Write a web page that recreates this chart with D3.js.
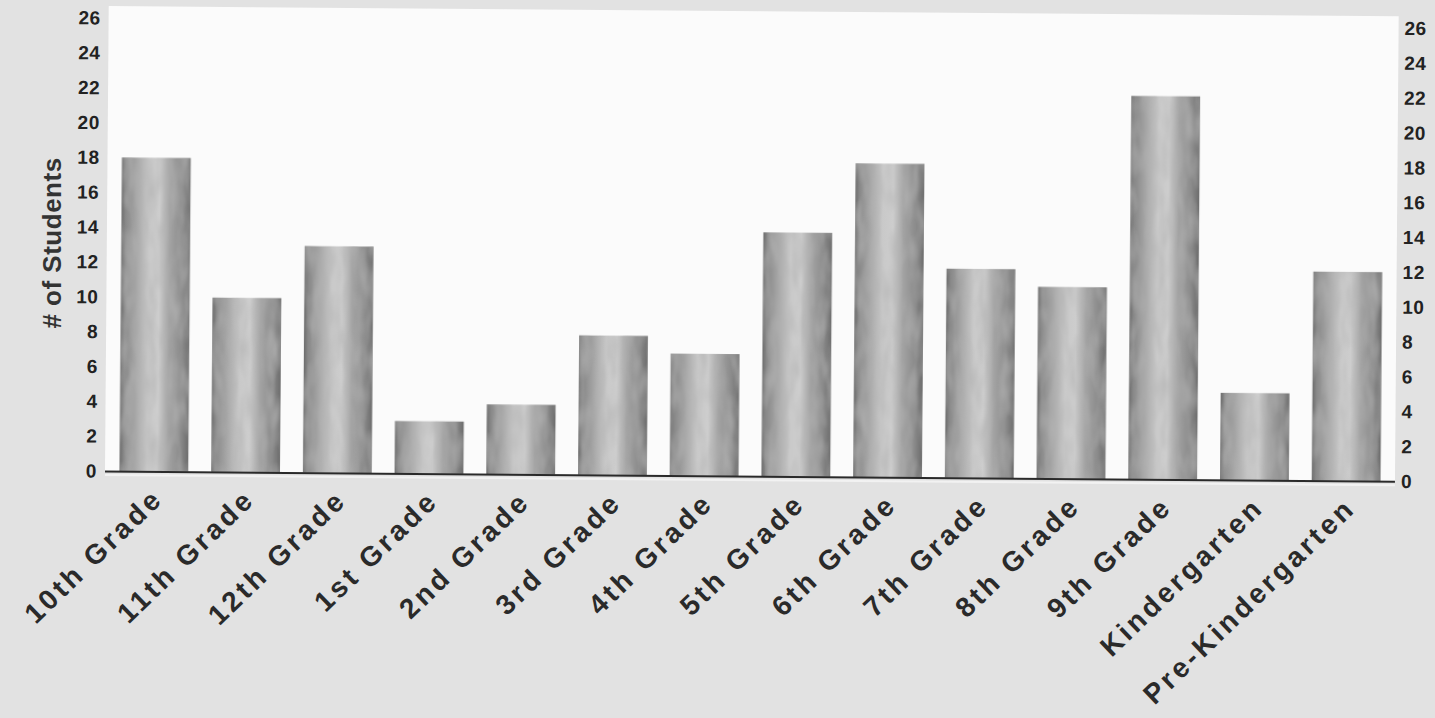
<!DOCTYPE html>
<html>
<head>
<meta charset="utf-8">
<script src="https://cdn.jsdelivr.net/npm/d3@7"></script>
<style>
html,body{margin:0;padding:0;background:#e2e2e2;}
svg{display:block;}
</style>
</head>
<body>
<svg id="chart" width="1435" height="718"></svg>
<script>
const categories = ["10th Grade","11th Grade","12th Grade","1st Grade","2nd Grade","3rd Grade","4th Grade","5th Grade","6th Grade","7th Grade","8th Grade","9th Grade","Kindergarten","Pre-Kindergarten"];
const students = [18,10,13,3,4,8,7,14,18,12,11,22,5,12];
const yTicks = [0,2,4,6,8,10,12,14,16,18,20,22,24,26];
const yTitle = "# of Students";

(function(){
const svg = d3.select("#chart");
const W = 1435, H = 718;
const pLeft = 105, pRight = 1395, pTop = 18, base = 471;

svg.append("rect").attr("width",W).attr("height",H).attr("fill","#e2e2e2");

const defs = svg.append("defs");
const grad = defs.append("linearGradient").attr("id","barGrad").attr("x1","0%").attr("x2","100%").attr("y1","0%").attr("y2","0%");
[[0,"#6c6c6c"],[6,"#888888"],[20,"#a2a2a2"],[40,"#c9c9c9"],[55,"#cdcdcd"],[70,"#a3a3a3"],[88,"#8b8b8b"],[100,"#6c6c6c"]]
  .forEach(([o,c])=>grad.append("stop").attr("offset",o+"%").attr("stop-color",c));

const filt = defs.append("filter").attr("id","noise").attr("x","0").attr("y","0").attr("width","1").attr("height","1");
filt.append("feTurbulence").attr("type","fractalNoise").attr("baseFrequency","0.09 0.03").attr("numOctaves",2).attr("seed",3).attr("result","t");
filt.append("feColorMatrix").attr("in","t").attr("type","matrix")
  .attr("values","0 0 0 0 0.45  0 0 0 0 0.45  0 0 0 0 0.45  0 0 0 -1.2 0.8").attr("result","n");
filt.append("feComposite").attr("in","n").attr("in2","SourceGraphic").attr("operator","in").attr("result","nc");
filt.append("feMerge").call(m=>{m.append("feMergeNode").attr("in","SourceGraphic");m.append("feMergeNode").attr("in","nc");});

const g = svg.append("g").attr("transform",`rotate(0.46 ${pLeft} ${base})`);

g.append("rect").attr("x",pLeft).attr("y",6).attr("width",pRight-pLeft).attr("height",base-6).attr("fill","#fbfbfb");

const x = d3.scaleBand().domain(categories).range([108,1392]).paddingInner(0.25).paddingOuter(0.125);
const y = d3.scaleLinear().domain([0,26]).range([base, pTop]);

g.selectAll("rect.bar").data(students).join("rect").attr("class","bar")
  .attr("x",(d,i)=>x(categories[i]))
  .attr("y",d=>y(d))
  .attr("width",x.bandwidth())
  .attr("height",d=>y(0)-y(d))
  .attr("fill","url(#barGrad)")
  .attr("filter","url(#noise)");

g.append("line").attr("x1",pLeft).attr("x2",pRight).attr("y1",base+0.5).attr("y2",base+0.5).attr("stroke","#2a2a2a").attr("stroke-width",2);
g.append("line").attr("x1",pLeft).attr("x2",pRight).attr("y1",base+4).attr("y2",base+4).attr("stroke","#f2f2f2").attr("stroke-width",2);

const tickFont = "'Liberation Sans', Arial, sans-serif";
const yl = d3.axisLeft(y).tickValues(yTicks).tickSize(0).tickPadding(0);
const gl = g.append("g").attr("transform",`translate(97,0)`).call(yl);
gl.select(".domain").remove();
gl.selectAll("text").attr("font-family",tickFont).attr("font-weight","bold").attr("font-size",19).attr("fill","#222").attr("letter-spacing","0.5px");

const yr = d3.axisRight(y).tickValues(yTicks).tickSize(0).tickPadding(0);
const gr = g.append("g").attr("transform",`translate(1401,0)`).call(yr);
gr.select(".domain").remove();
gr.selectAll("text").attr("font-family",tickFont).attr("font-weight","bold").attr("font-size",19).attr("fill","#222").attr("letter-spacing","0.5px");

const xa = d3.axisBottom(x).tickSize(0).tickPadding(0);
const gx = g.append("g").attr("transform",`translate(0,${base})`).call(xa);
gx.select(".domain").remove();
gx.selectAll("text")
  .attr("font-family",tickFont).attr("font-weight","bold").attr("font-size",28).attr("fill","#2a2a2a")
  .attr("letter-spacing","3.3px")
  .attr("text-anchor","end").attr("dy",null)
  .attr("transform","translate(11,29) rotate(-44.5)");

svg.append("text").attr("transform",`translate(61,243) rotate(-90)`)
  .attr("text-anchor","middle").attr("font-family",tickFont).attr("font-weight","bold").attr("font-size",26).attr("fill","#333")
  .attr("letter-spacing","0.5px")
  .text(yTitle);
})();
</script>
</body>
</html>
